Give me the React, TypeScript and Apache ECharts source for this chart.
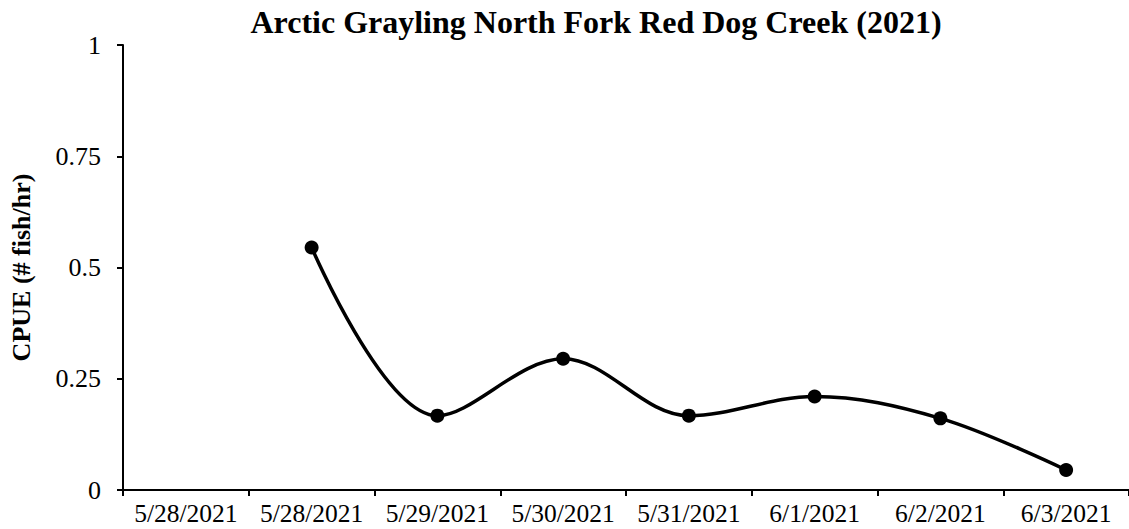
import React, { useEffect, useRef } from "react";
import * as echarts from "echarts";

const titleText = "Arctic Grayling North Fork Red Dog Creek (2021)";
const yAxisName = "CPUE (# fish/hr)";
const categories = [
  "5/28/2021",
  "5/28/2021",
  "5/29/2021",
  "5/30/2021",
  "5/31/2021",
  "6/1/2021",
  "6/2/2021",
  "6/3/2021",
];
const cpue: (number | null)[] = [null, 0.545, 0.167, 0.295, 0.167, 0.21, 0.161, 0.045];
const yTicks = { min: 0, max: 1, interval: 0.25 };

const FONT = "'Liberation Serif', 'Times New Roman', serif";

export default function App() {
  const ref = useRef<HTMLDivElement>(null);
  useEffect(() => {
    if (!ref.current) return;
    const chart = echarts.init(ref.current, null, { renderer: "svg" });
    chart.setOption({
      animation: false,
      backgroundColor: "#ffffff",
      title: {
        text: titleText,
        left: 591,
        top: 1,
        textAlign: "center",
        textStyle: {
          fontFamily: FONT,
          fontWeight: "bold",
          fontSize: 32,
          color: "#000",
        },
      },
      grid: { left: 112, top: 45, width: 1021, height: 445, containLabel: false },
      xAxis: {
        type: "category",
        data: categories,
        boundaryGap: true,
        axisLine: { lineStyle: { color: "#000", width: 2 } },
        axisTick: { show: true, alignWithLabel: false, interval: 0, length: 6, lineStyle: { color: "#000", width: 2 } },
        axisLabel: {
          interval: 0,
          margin: 10,
          fontFamily: FONT,
          fontSize: 25.5,
          color: "#000",
        },
        splitLine: { show: false },
      },
      yAxis: {
        type: "value",
        min: yTicks.min,
        max: yTicks.max,
        interval: yTicks.interval,
        name: yAxisName,
        nameLocation: "middle",
        nameGap: 89,
        nameRotate: 90,
        nameTextStyle: {
          fontFamily: FONT,
          fontWeight: "bold",
          fontSize: 26,
          color: "#000",
        },
        axisLine: { show: true, lineStyle: { color: "#000", width: 2 } },
        axisTick: { show: true, length: 6, lineStyle: { color: "#000", width: 2 } },
        axisLabel: {
          margin: 22,
          fontFamily: FONT,
          fontSize: 26,
          color: "#000",
        },
        splitLine: { show: false },
      },
      series: [
        {
          type: "line",
          data: cpue,
          smooth: 0.35,
          connectNulls: false,
          symbol: "circle",
          symbolSize: 14,
          lineStyle: { color: "#000", width: 3.5 },
          itemStyle: { color: "#000" },
        },
      ],
    });
    return () => chart.dispose();
  }, []);
  return (
    <div
      ref={ref}
      style={{ position: "fixed", left: 0, top: 0, width: 1129, height: 529, background: "#fff" }}
    />
  );
}
